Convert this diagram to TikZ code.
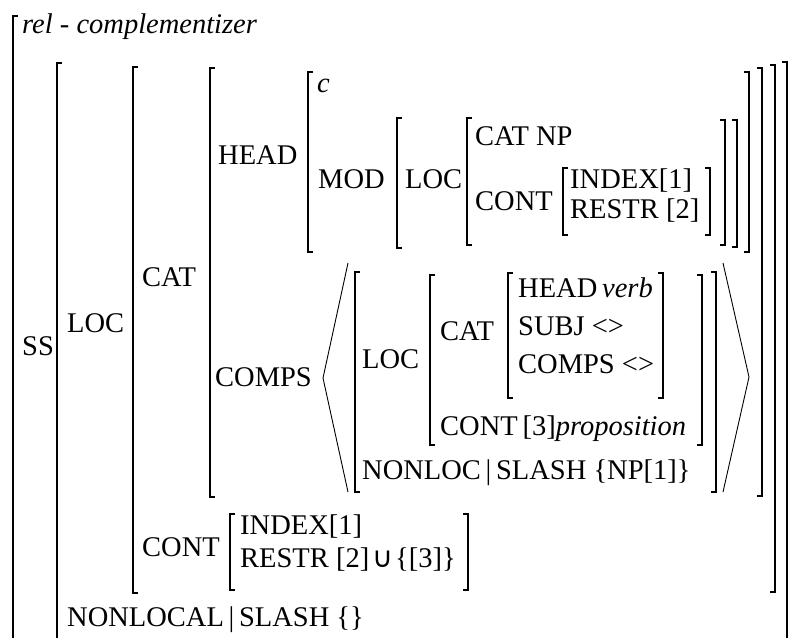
\documentclass[tikz,border=0pt]{standalone}
\usepackage{fontspec}
\setmainfont{Liberation Serif}
\newfontfamily\symfont{DejaVu Sans}
\usetikzlibrary{calc}

% pieces of the square brackets: x, top, bottom
\newcommand{\lbrk}[3]{%
  \draw[brk] ({#1+5},#2) -- (#1,#2) -- (#1,#3) -- ({#1+5},#3);
  \draw[brkmid] (#1,{#2+22}) -- (#1,{#3-22});}
\newcommand{\rbrk}[3]{%
  \draw[brk] ({#1-5},#2) -- (#1,#2) -- (#1,#3) -- ({#1-5},#3);
  \draw[brkmid] (#1,{#2+22}) -- (#1,{#3-22});}

\begin{document}
\begin{tikzpicture}[x=1pt, y=-1pt,
    font=\fontsize{28.5}{34}\selectfont,
    attr/.style={anchor=base west, inner sep=0pt},
    brk/.style={line width=1.2pt},
    brkmid/.style={line width=2.4pt},
    angl/.style={line width=0.9pt, line join=miter}]
    \useasboundingbox (0,0) rectangle (794,637);
    \clip (0,0) rectangle (794,637);

    % outer levels
    \node[attr] (type) at (22,33) {\textit{rel - complementizer}};
    \lbrk{13}{16}{680}
    \node[attr] (ss) at (22,355) {SS};
    \lbrk{57}{63}{680}   \rbrk{787}{62}{680}
    \node[attr] (loc) at (67,332) {LOC};
    \lbrk{133}{67}{593}  \rbrk{775}{65}{592}
    \node[attr] (cat) at (142,286) {CAT};
    \lbrk{210}{68}{497}  \rbrk{762}{68}{496}

    % HEAD value
    \node[attr] (head) at (218,164) {HEAD};
    \lbrk{308}{72}{252}  \rbrk{749}{72}{252}
    \node[attr] (hval) at (317,92) {\textit{c}};
    \node[attr] (mod) at (318,188) {MOD};
    \lbrk{397}{118}{248} \rbrk{737}{120}{247}
    \node[attr] (modloc) at (405,188) {LOC};
    \lbrk{467}{118}{245} \rbrk{725}{120}{245}
    \node[attr] (modcat) at (475,145) {CAT NP};
    \node[attr] (modcont) at (475,210) {CONT};
    \lbrk{563}{168}{235} \rbrk{710}{168}{235}
    \node[attr] (modidx) at (570,188) {INDEX[1]};
    \node[attr] (modrestr) at (570,218) {RESTR [2]};

    % COMPS list
    \node[attr] (comps) at (215,386) {COMPS};
    \draw[angl] (348,263) -- (323,378) -- (348,492);
    \draw[angl] (723,263) -- (749,377) -- (723,492);
    \lbrk{355}{272}{492} \rbrk{716}{272}{492}
    \node[attr] (cloc) at (362,368) {LOC};
    \lbrk{430}{275}{445} \rbrk{702}{275}{445}
    \node[attr] (ccat) at (440,340) {CAT};
    \lbrk{508}{273}{398} \rbrk{663}{273}{398}
    \node[attr] (chead) at (518,297) {HEAD\,\textit{verb}};
    \node[attr] (csubj) at (518,335) {SUBJ <>};
    \node[attr] (ccomps) at (518,373) {COMPS <>};
    \node[attr] (ccont) at (440,435) {CONT\,[3]\textit{proposition}};
    \node[attr] (cnonloc) at (362,479) {NONLOC\,|\,SLASH \{NP[1]\}};

    % CONT of LOC
    \node[attr] (cont) at (142,556) {CONT};
    \lbrk{230}{514}{590} \rbrk{468}{514}{590}
    \node[attr] (idx) at (240,534) {INDEX[1]};
    \node[attr] (restr) at (240,567) {RESTR [2]\hspace{3pt}{\symfont ∪}\hspace{2pt}\{[3]\}};

    \node[attr] (nonlocal) at (67,626) {NONLOCAL\,|\,SLASH \{\}};
\end{tikzpicture}
\end{document}
